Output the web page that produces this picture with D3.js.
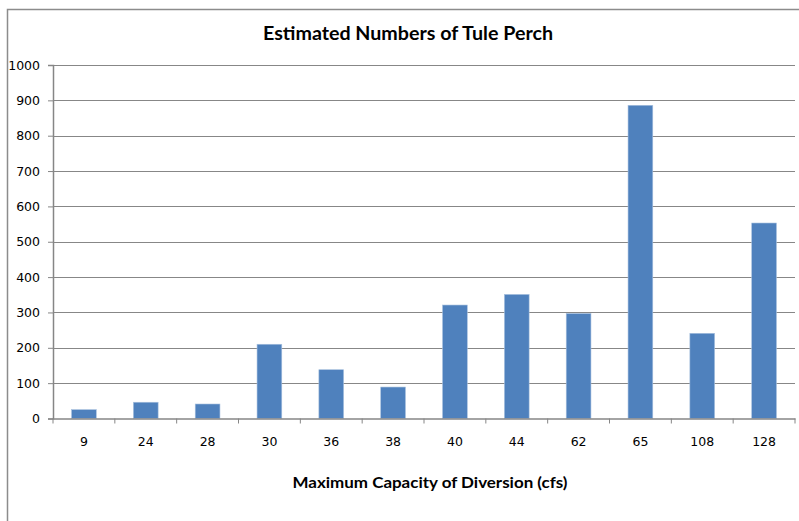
<!DOCTYPE html>
<html><head><meta charset="utf-8">
<script src="https://cdn.jsdelivr.net/npm/d3@7"></script>
<style>body{margin:0;background:#fff;} svg{display:block;}</style>
</head><body>
<svg id="c" width="799" height="521"></svg>
<script>
const categories = ["9","24","28","30","36","38","40","44","62","65","108","128"];
const values = [25,46,41,210,138,89,321,351,297,886,241,553];
const yTicks = [0,100,200,300,400,500,600,700,800,900,1000];
const title = "Estimated Numbers of Tule Perch";
const xTitle = "Maximum Capacity of Diversion (cfs)";

const svg = d3.select("#c");
const m = {left:53, right:795, top:65, bottom:418.5};
// frame
svg.append("path").attr("d","M7.5,521 V9.5 H799").attr("fill","none").attr("stroke","#8c8c8c").attr("stroke-width",1.5);

const x = d3.scaleBand().domain(categories).range([m.left, m.right]).paddingInner(0.6).paddingOuter(0.3);
const y = d3.scaleLinear().domain([0,1000]).range([m.bottom, m.top]);

// gridlines
svg.append("g").selectAll("line").data(yTicks.filter(d=>d>0)).join("line")
  .attr("x1",m.left).attr("x2",m.right)
  .attr("y1",d=>Math.round(y(d))+0.5).attr("y2",d=>Math.round(y(d))+0.5)
  .attr("stroke","#878787").attr("stroke-width",1.2);

// bars
svg.append("g").selectAll("rect").data(values).join("rect")
  .attr("x",(d,i)=>x(categories[i])).attr("width",x.bandwidth())
  .attr("y",d=>y(d)).attr("height",d=>y(0)-y(d))
  .attr("fill","#4f81bd").attr("stroke","#a7c0de").attr("stroke-width",0.6);

// y axis
const yAxis = d3.axisLeft(y).tickValues(yTicks).tickSize(5).tickPadding(8).tickFormat(d3.format("d"));
const gy = svg.append("g").attr("transform",`translate(${m.left},0)`).call(yAxis);
gy.select(".domain").attr("stroke","#868686").attr("stroke-width",1.5);
gy.selectAll(".tick line").attr("stroke","#868686");
gy.selectAll("text").attr("font-family","DejaVu Sans, sans-serif").attr("font-size",12.5).attr("fill","#000");

// x axis with ticks at band edges
const xAxis = d3.axisBottom(x).tickSize(0).tickPadding(19);
const gx = svg.append("g").attr("transform",`translate(0,${m.bottom})`).call(xAxis);
gx.select(".domain").attr("stroke","#868686").attr("stroke-width",1.5);
gx.selectAll("text").attr("font-family","DejaVu Sans, sans-serif").attr("font-size",12.5).attr("fill","#000");
const step = x.step();
const edges = categories.map((c,i)=> x(c) - x.paddingInner()*step/2 ).concat([m.right]);
gx.selectAll(".edge").data(edges).join("line").attr("class","edge")
  .attr("x1",d=>d).attr("x2",d=>d).attr("y1",0).attr("y2",5)
  .attr("stroke","#868686").attr("stroke-width",1);

svg.append("text").attr("x",408).attr("y",40).attr("text-anchor","middle")
  .attr("font-family","Lato, sans-serif").attr("font-weight","bold").attr("font-size",19)
  .attr("textLength",290).attr("lengthAdjust","spacingAndGlyphs").text(title);
svg.append("text").attr("x",430).attr("y",488).attr("text-anchor","middle")
  .attr("font-family","Lato, sans-serif").attr("font-weight","bold").attr("font-size",16)
  .attr("textLength",275).attr("lengthAdjust","spacingAndGlyphs").text(xTitle);
</script>
</body></html>
